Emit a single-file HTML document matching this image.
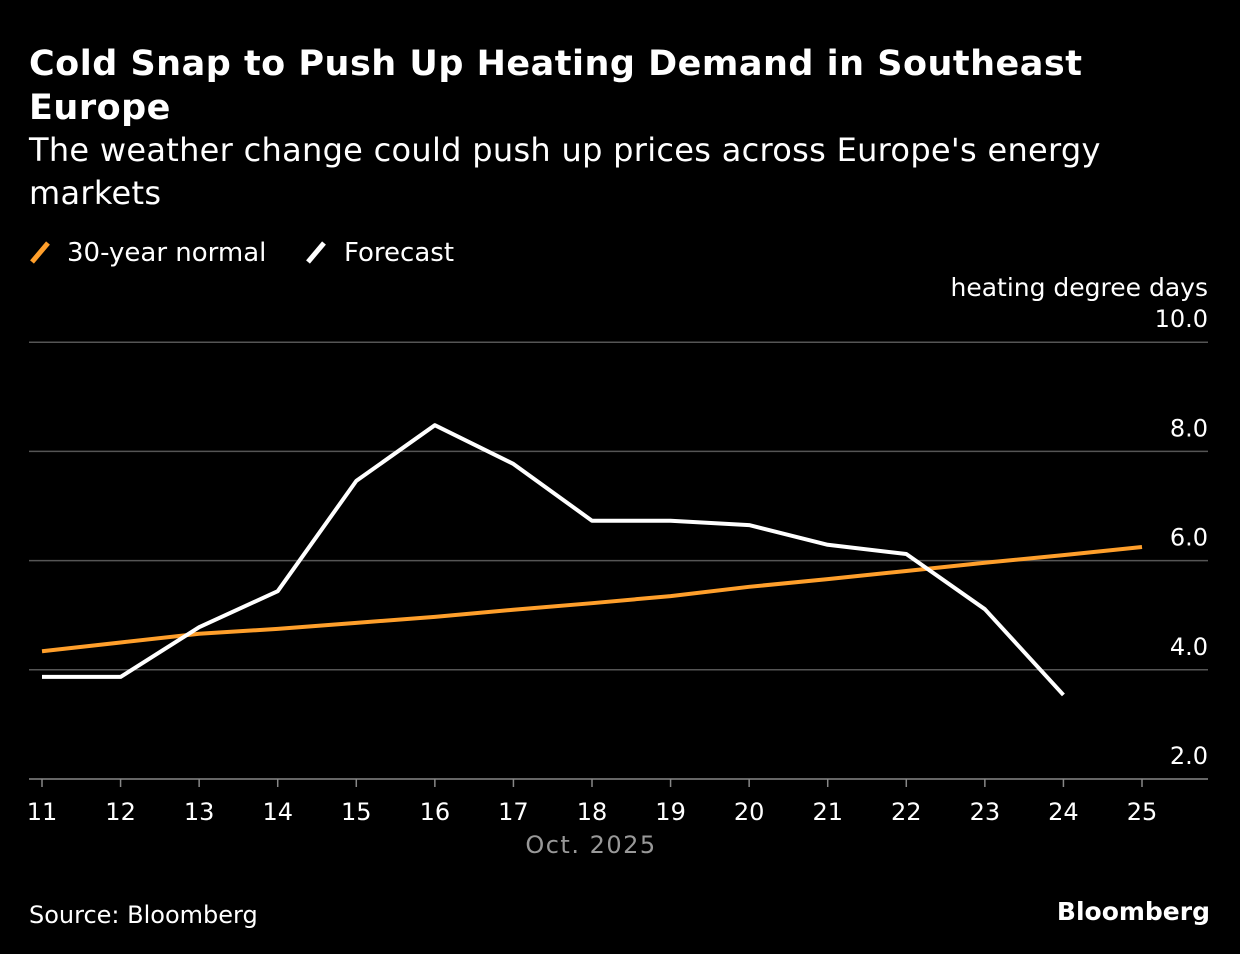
<!DOCTYPE html>
<html><head><meta charset="utf-8"><style>
body{margin:0;background:#000;width:1240px;height:954px;overflow:hidden;font-family:"Liberation Sans","DejaVu Sans",sans-serif;color:#fff}
.t{position:absolute;left:29px;white-space:nowrap}
</style></head><body>
<div class="t" style="top:42px;font-size:35px;font-weight:bold;line-height:44px;font-family:'DejaVu Sans',sans-serif;letter-spacing:0.5px">Cold Snap to Push Up Heating Demand in Southeast<br>Europe</div>
<div class="t" style="top:129px;font-size:32px;line-height:43px;font-family:'DejaVu Sans',sans-serif;font-weight:normal;letter-spacing:0.3px">The weather change could push up prices across Europe's energy<br>markets</div>
<svg width="1240" height="954" style="position:absolute;left:0;top:0" id="c" font-family="DejaVu Sans, sans-serif">
<g>
<line x1="32" y1="262" x2="48" y2="243" stroke="#ff9f2b" stroke-width="5"/>
<text x="67" y="261" font-size="26" fill="#fff">30-year normal</text>
<line x1="308" y1="262" x2="324" y2="243" stroke="#fff" stroke-width="5"/>
<text x="344" y="261" font-size="26" fill="#fff">Forecast</text>
</g>
<text x="1208" y="296" font-size="25" fill="#fff" text-anchor="end">heating degree days</text>
<g id="grid"></g><g id="lines"></g>
<text x="591" y="853" font-size="24" fill="#999" text-anchor="middle" letter-spacing="1.5">Oct. 2025</text>
<text x="29" y="923" font-size="24" fill="#fff">Source: Bloomberg</text>
<text x="1210" y="920" font-size="25" font-weight="bold" fill="#fff" text-anchor="end">Bloomberg</text>
</svg>
<script>
const days=[11,12,13,14,15,16,17,18,19,20,21,22,23,24,25];
const normal=[4.34,4.5,4.66,4.75,4.86,4.97,5.1,5.22,5.35,5.52,5.66,5.81,5.96,6.1,6.25];
const forecast=[3.87,3.87,4.78,5.44,7.46,8.48,7.77,6.73,6.73,6.65,6.29,6.12,5.11,3.54];
const yTicks=[2,4,6,8,10];
const NS='http://www.w3.org/2000/svg';
const x=d=>42+(d-11)*(1100/14);
const y=v=>779-(v-2)*54.6;
const g=document.getElementById('grid'),L=document.getElementById('lines');
function mk(tag,at,p){const e=document.createElementNS(NS,tag);for(const k in at)e.setAttribute(k,at[k]);p.appendChild(e);return e;}
yTicks.forEach(v=>{
 const l=mk('line',{x1:29,x2:1208,y1:y(v),y2:y(v),stroke:v==2?'#888':'#555','stroke-width':1.5},g);
 
 
 const t=mk('text',{x:1208,y:y(v)-15,'font-size':24,fill:'#fff','text-anchor':'end'},g);t.textContent=v.toFixed(1);
 
 
});
days.forEach(d=>{
 mk('line',{x1:x(d),x2:x(d),y1:779,y2:787,stroke:'#888','stroke-width':1.5},g);
 const t=mk('text',{x:x(d),y:820,'font-size':24,fill:'#fff','text-anchor':'middle'},g);t.textContent=d;
 
 
});
const pn=mk('polyline',{points:normal.map((v,i)=>x(days[i])+','+y(v)).join(' '),fill:'none',stroke:'#ff9f2b','stroke-width':4,'stroke-linejoin':'round'},L);


const pf=mk('polyline',{points:forecast.map((v,i)=>x(days[i])+','+y(v)).join(' '),fill:'none',stroke:'#fff','stroke-width':4,'stroke-linejoin':'round'},L);


</script>
</body></html>
